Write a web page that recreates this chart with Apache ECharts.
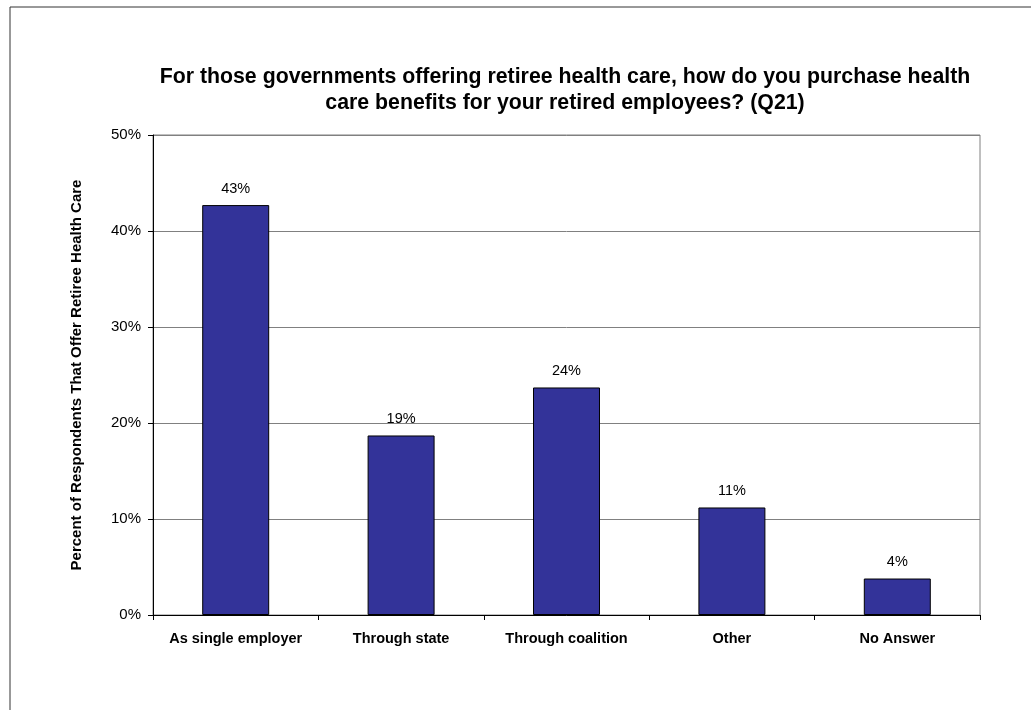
<!DOCTYPE html>
<html>
<head>
<meta charset="utf-8">
<script src="https://cdn.jsdelivr.net/npm/echarts@6/dist/echarts.min.js"></script>
<style>
  html, body { margin: 0; padding: 0; background: #fff; }
  #chart { width: 1031px; height: 710px; }
</style>
</head>
<body>
<div id="chart"></div>
<script>
// How retiree health care benefits are purchased (Q21)
const categories = ['As single employer', 'Through state', 'Through coalition', 'Other', 'No Answer'];
const shares = [42.7, 18.7, 23.7, 11.2, 3.8]; // percent of respondents
const yTicks = { min: 0, max: 50, interval: 10 };

const chart = echarts.init(document.getElementById('chart'), null, { renderer: 'canvas' });
const font = '"Liberation Sans", Arial, sans-serif';

chart.setOption({
  animation: false,
  backgroundColor: '#ffffff',
  title: {
    text: 'For those governments offering retiree health care, how do you purchase health\ncare benefits for your retired employees? (Q21)',
    left: 560,
    top: 59,
    textAlign: 'center',
    textStyle: { fontFamily: font, fontSize: 21.3, fontWeight: 'bold', color: '#000', lineHeight: 26 }
  },
  graphic: [{
    type: 'rect',
    shape: { x: 10, y: 7, width: 1040, height: 720 },
    style: { fill: 'none', stroke: '#333', lineWidth: 1 },
    silent: true
  }],
  grid: {
    left: 153, right: 51, top: 135, bottom: 95,
    show: true, borderColor: '#808080', borderWidth: 1, backgroundColor: 'transparent'
  },
  xAxis: {
    type: 'category',
    data: categories,
    boundaryGap: true,
    axisLine: { lineStyle: { color: '#000', width: 1 } },
    axisTick: { show: true, interval: 0, length: 5, alignWithLabel: false, lineStyle: { color: '#000' } },
    axisLabel: { interval: 0, fontFamily: font, fontSize: 14.5, fontWeight: 'bold', color: '#000', margin: 16 }
  },
  yAxis: {
    type: 'value',
    min: yTicks.min, max: yTicks.max, interval: yTicks.interval,
    name: 'Percent of Respondents That Offer Retiree Health Care',
    nameLocation: 'middle',
    nameGap: 69,
    nameRotate: 90,
    nameTextStyle: { fontFamily: font, fontSize: 15, fontWeight: 'bold', color: '#000' },
    axisLine: { show: true, lineStyle: { color: '#000', width: 1 } },
    axisTick: { show: true, length: 5, inside: false, lineStyle: { color: '#000' } },
    axisLabel: { fontFamily: font, fontSize: 15, color: '#000', margin: 12, formatter: '{value}%' },
    splitLine: { show: true, lineStyle: { color: '#808080', width: 1 } }
  },
  series: [{
    type: 'bar',
    data: shares,
    barWidth: '40.5%',
    itemStyle: { color: '#333399', borderColor: '#000', borderWidth: 1 },
    label: {
      show: true,
      position: 'top',
      distance: 9,
      fontFamily: font,
      fontSize: 14.5,
      color: '#000',
      formatter: p => Math.round(p.value) + '%'
    }
  }]
});
</script>
</body>
</html>
